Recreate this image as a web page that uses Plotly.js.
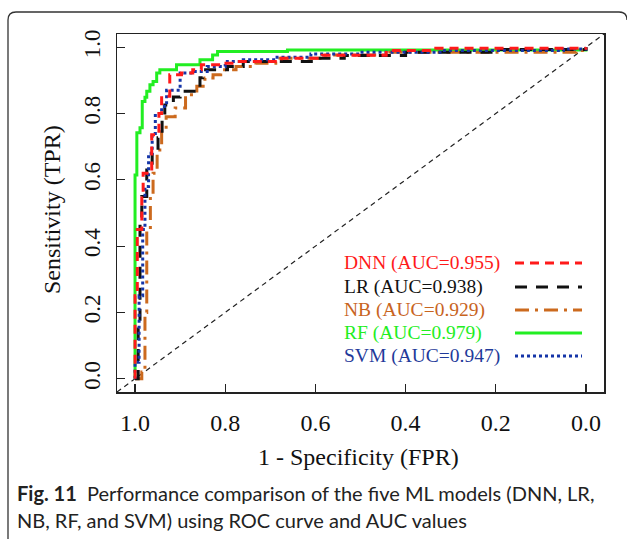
<!DOCTYPE html>
<html>
<head>
<meta charset="utf-8">
<script src="https://cdn.plot.ly/plotly-3.0.1.min.js"></script>
<style>
  html, body { margin: 0; padding: 0; background: #ffffff; }
  #chart { width: 627px; height: 539px; }
</style>
</head>
<body>
<div id="chart"></div>
<script>
// ---- Data (x = specificity, plotted reversed; y = sensitivity) ----
const rfSpec  = [1.0, 1.0, 0.996, 0.989, 0.984, 0.978, 0.974, 0.967, 0.960, 0.952, 0.945, 0.923, 0.908, 0.886, 0.856, 0.828, 0.817, 0.662, 0.0];
const rfSens  = [0.0, 0.615, 0.742, 0.757, 0.836, 0.849, 0.867, 0.887, 0.897, 0.922, 0.932, 0.932, 0.947, 0.947, 0.962, 0.977, 0.987, 0.992, 1.0];

const dnnSpec = [1.0, 1.0, 0.995, 0.985, 0.982, 0.963, 0.947, 0.941, 0.923, 0.897, 0.872, 0.853, 0.806, 0.775, 0.675, 0.585, 0.443, 0.333, 0.0];
const dnnSens = [0.0, 0.25, 0.45, 0.55, 0.62, 0.736, 0.80, 0.852, 0.917, 0.922, 0.932, 0.947, 0.952, 0.957, 0.967, 0.976, 0.99, 0.997, 1.0];

const lrSpec  = [1.0, 0.993, 0.989, 0.985, 0.974, 0.962, 0.949, 0.940, 0.934, 0.915, 0.900, 0.856, 0.850, 0.820, 0.795, 0.760, 0.686, 0.600, 0.536, 0.400, 0.200, 0.0];
const lrSens  = [0.0, 0.15, 0.46, 0.55, 0.64, 0.68, 0.727, 0.78, 0.826, 0.85, 0.867, 0.908, 0.932, 0.932, 0.942, 0.957, 0.957, 0.967, 0.975, 0.985, 0.993, 1.0];

const nbSpec  = [1.0, 0.985, 0.978, 0.974, 0.966, 0.960, 0.951, 0.941, 0.931, 0.911, 0.888, 0.863, 0.845, 0.827, 0.810, 0.776, 0.732, 0.688, 0.586, 0.435, 0.022, 0.0];
const nbSens  = [0.0, 0.02, 0.20, 0.45, 0.55, 0.62, 0.69, 0.75, 0.79, 0.817, 0.857, 0.882, 0.907, 0.917, 0.932, 0.942, 0.952, 0.967, 0.977, 0.985, 0.99, 1.0];

const svmSpec = [1.0, 1.0, 0.991, 0.983, 0.978, 0.970, 0.962, 0.955, 0.941, 0.930, 0.900, 0.870, 0.840, 0.800, 0.760, 0.685, 0.610, 0.500, 0.320, 0.050, 0.0];
const svmSens = [0.0, 0.05, 0.25, 0.45, 0.58, 0.68, 0.74, 0.80, 0.821, 0.87, 0.922, 0.927, 0.942, 0.957, 0.962, 0.97, 0.98, 0.985, 0.99, 0.995, 1.0];

const modelNames = ["DNN", "LR", "NB", "RF", "SVM"];
const aucValues  = ["0.955", "0.938", "0.929", "0.979", "0.947"];
const xTickVals  = [1.0, 0.8, 0.6, 0.4, 0.2, 0.0];
const xTickText  = ["1.0", "0.8", "0.6", "0.4", "0.2", "0.0"];
const yTickVals  = [0.0, 0.2, 0.4, 0.6, 0.8, 1.0];
const yTickText  = ["0.0", "0.2", "0.4", "0.6", "0.8", "1.0"];

// ---- Styles ----
const styles = {
  DNN: {color: "#ff1a1a", dash: "9px,6px",  width: 3},
  LR:  {color: "#111111", dash: "12px,9px", width: 3},
  NB:  {color: "#cc6a1e", dash: "14px,6px,3px,6px", width: 3},
  RF:  {color: "#22ee22", dash: "solid",    width: 3},
  SVM: {color: "#1535a8", dash: "3px,3px",  width: 3}
};
const textColors = {DNN: "#ff1a1a", LR: "#111111", NB: "#c8641e", RF: "#22ee22", SVM: "#1f3a9a"};

// ---- Geometry helpers (pixel -> paper) ----
const L = 117, R = 604, T = 34, B = 392;
const PX = p => (p - L) / (R - L);
const PY = p => (B - p) / (B - T);

const series = {
  RF: [rfSpec, rfSens], NB: [nbSpec, nbSens], LR: [lrSpec, lrSens],
  SVM: [svmSpec, svmSens], DNN: [dnnSpec, dnnSens]
};
const drawOrder = ["RF", "NB", "LR", "SVM", "DNN"];
const traces = drawOrder.map(k => ({
  type: "scatter", mode: "lines", name: k,
  x: series[k][0], y: series[k][1],
  line: {color: styles[k].color, width: styles[k].width, dash: styles[k].dash, shape: "hv"},
  hoverinfo: "skip", showlegend: false
}));

const serif = "Liberation Serif, Times New Roman, serif";
const annotations = [];
const shapes = [];

// legend (text left, line sample right)
const rowY = [263, 287, 310, 333, 356];
modelNames.forEach((m, i) => {
  annotations.push({
    xref: "paper", yref: "paper", x: PX(342), y: PY(rowY[i]),
    xanchor: "left", yanchor: "middle", showarrow: false,
    text: m + " (AUC=" + aucValues[i] + ")",
    font: {family: serif, size: 19.5, color: textColors[m]}
  });
  shapes.push({
    type: "line", xref: "paper", yref: "paper",
    x0: PX(515), x1: PX(582), y0: PY(rowY[i]), y1: PY(rowY[i]),
    line: {color: styles[m].color, width: styles[m].width, dash: styles[m].dash}
  });
});

// axis titles
annotations.push({
  xref: "paper", yref: "paper", x: PX(358), y: PY(457), xanchor: "center", yanchor: "middle",
  showarrow: false, text: "1 - Specificity (FPR)", font: {family: serif, size: 24, color: "#111"}
});
annotations.push({
  xref: "paper", yref: "paper", x: PX(52), y: PY(210), xanchor: "center", yanchor: "middle",
  showarrow: false, textangle: -90, text: "Sensitivity (TPR)", font: {family: serif, size: 24, color: "#111"}
});

// caption
const sans = "Lato, Open Sans, sans-serif";
annotations.push({
  xref: "paper", yref: "paper", x: PX(15), y: PY(493), xanchor: "left", yanchor: "middle",
  showarrow: false,
  text: "<b>Fig. 11</b>\u00a0\u00a0Performance comparison of the five ML models (DNN, LR,",
  font: {family: sans, size: 20, color: "#222"}
});
annotations.push({
  xref: "paper", yref: "paper", x: PX(15), y: PY(520), xanchor: "left", yanchor: "middle",
  showarrow: false,
  text: "NB, RF, and SVM) using ROC curve and AUC values",
  font: {family: sans, size: 20, color: "#222"}
});

// chance diagonal across the plot box
shapes.push({
  type: "line", xref: "paper", yref: "paper", x0: 0, y0: 0, x1: 1, y1: 1,
  line: {color: "#222", width: 1.2, dash: "5px,4px"}, layer: "below"
});

// outer rounded frame of the figure
const framePath = "M " + PX(8) + "," + PY(540) + " L " + PX(8) + "," + PY(20) +
  " Q " + PX(8) + "," + PY(12) + " " + PX(16) + "," + PY(12) +
  " L " + PX(619) + "," + PY(12) +
  " Q " + PX(627) + "," + PY(12) + " " + PX(627) + "," + PY(20);
shapes.push({
  type: "path", xref: "paper", yref: "paper", path: framePath,
  line: {color: "#333", width: 1.3}, layer: "below"
});

const layout = {
  width: 627, height: 539,
  margin: {l: L, r: 627 - R, t: T, b: 539 - B, pad: 0},
  paper_bgcolor: "#ffffff", plot_bgcolor: "#ffffff",
  showlegend: false,
  xaxis: {
    range: [1.04, -0.04], tickvals: xTickVals, ticktext: xTickText,
    ticks: "inside", ticklen: 8, tickwidth: 1.2, tickcolor: "#222",
    showline: true, mirror: true, linecolor: "#222", linewidth: 1.5,
    showgrid: false, zeroline: false,
    tickfont: {family: serif, size: 24, color: "#111"}, ticklabelstandoff: 9
  },
  yaxis: {
    range: [-0.04, 1.04], tickvals: yTickVals, ticktext: yTickText,
    ticks: "inside", ticklen: 8, tickwidth: 1.2, tickcolor: "#222",
    showline: true, mirror: true, linecolor: "#222", linewidth: 1.5,
    showgrid: false, zeroline: false, tickangle: -90,
    tickfont: {family: serif, size: 23, color: "#111"}, ticklabelstandoff: 6
  },
  annotations: annotations,
  shapes: shapes
};

Plotly.newPlot("chart", traces, layout, {displayModeBar: false, staticPlot: true});
</script>
</body>
</html>
